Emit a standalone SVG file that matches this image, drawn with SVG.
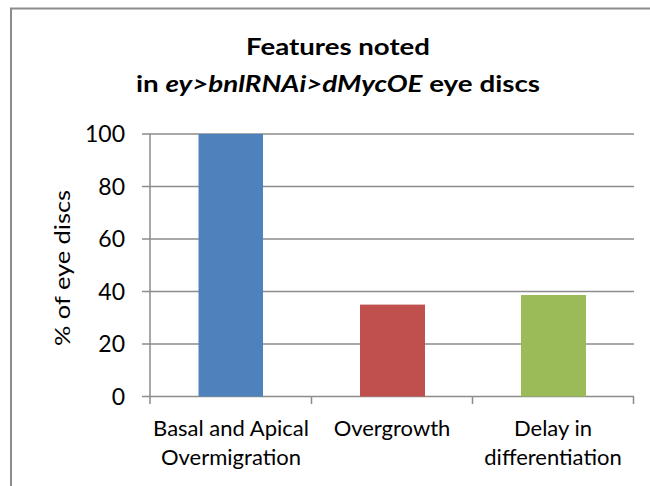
<svg xmlns="http://www.w3.org/2000/svg" width="650" height="486" viewBox="0 0 650 486">
<style>
text{font-family:Lato,"Liberation Sans",sans-serif;fill:#000}
.title{font-size:22px;font-weight:bold;text-anchor:middle}
.tick{font-size:23px;text-anchor:end}
.cat{font-size:22px;text-anchor:middle}
.grid{stroke:#8c8c8c;stroke-width:1.5;fill:none}
</style>
<rect x="0" y="0" width="650" height="486" fill="#fff"/>
<rect x="11" y="8.5" width="660" height="500" fill="none" stroke="#8c8c8c" stroke-width="2"/>
<g id="title">
<text class="title" x="338" y="55" textLength="184" lengthAdjust="spacingAndGlyphs">Features noted</text>
<text class="title" x="338" y="92" textLength="404" lengthAdjust="spacingAndGlyphs">in <tspan font-style="italic">ey&gt;bnlRNAi&gt;dMycOE</tspan> eye discs</text>
</g>
<g id="axes">
<path class="grid" d="M142 134H634M142 186.5H634M142 239H634M142 291.5H634M142 344H634M142 396.5H634M150 134V404M311.5 396.5V404M472.5 396.5V404M633.5 396.5V404"/>
<text class="tick" x="125" y="142">100</text>
<text class="tick" x="125" y="194.5">80</text>
<text class="tick" x="125" y="247">60</text>
<text class="tick" x="125" y="299.5">40</text>
<text class="tick" x="125" y="352">20</text>
<text class="tick" x="125" y="404.5">0</text>
<text transform="translate(70 268) rotate(-90)" style="font-size:22px;text-anchor:middle" textLength="156" lengthAdjust="spacingAndGlyphs">% of eye discs</text>
</g>
<g id="bars">
<rect id="bar1" x="198.5" y="134" width="64.5" height="262.5" fill="#4f81bd"/>
<rect id="bar2" x="360" y="304.6" width="65" height="91.9" fill="#c0504d"/>
<rect id="bar3" x="521" y="295" width="65" height="101.5" fill="#9bbb59"/>
</g>
<g id="labels">
<text class="cat" x="231" y="436">Basal and Apical</text>
<text class="cat" x="231" y="465">Overmigration</text>
<text class="cat" x="392" y="436">Overgrowth</text>
<text class="cat" x="553" y="436">Delay in</text>
<text class="cat" x="553" y="465">differentiation</text>
</g>
</svg>
